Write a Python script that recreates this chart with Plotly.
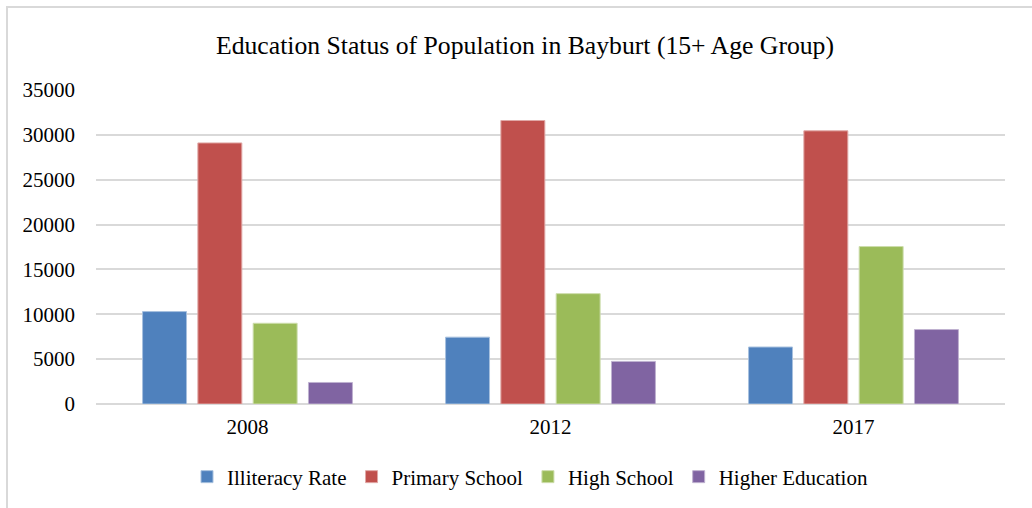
import plotly.graph_objects as go

years = ["2008", "2012", "2017"]
series_names = ["Illiteracy Rate", "Primary School", "High School", "Higher Education"]
illiteracy = [10300, 7450, 6350]
primary = [29100, 31600, 30450]
high_school = [9000, 12300, 17550]
higher_edu = [2400, 4750, 8300]
colors = ["#4F81BD", "#C0504D", "#9BBB59", "#8064A2"]
edge_colors = ["#A7C0DE", "#E0A8A6", "#CDDDAC", "#BFB1D0"]
y_ticks = [0, 5000, 10000, 15000, 20000, 25000, 30000, 35000]

font_family = "Liberation Serif"

fig = go.Figure()
for name, vals, c, ec in zip(series_names, [illiteracy, primary, high_school, higher_edu], colors, edge_colors):
    fig.add_trace(go.Bar(
        x=years, y=vals, name=name,
        marker=dict(color=c, line=dict(color=ec, width=1)),
    ))

fig.update_layout(
    width=1032, height=508,
    barmode="group",
    bargap=0.27,
    bargroupgap=0.205,
    paper_bgcolor="white",
    plot_bgcolor="white",
    margin=dict(l=96, r=27, t=90, b=104),
    font=dict(family=font_family, color="#000000", size=21),
    title=dict(
        text="Education Status of Population in Bayburt (15+ Age Group)",
        x=525 / 1032, xref="container", xanchor="center",
        y=1 - 45 / 508, yref="container", yanchor="middle",
        font=dict(family=font_family, size=25.7, color="#000000"),
    ),
    xaxis=dict(
        showgrid=False, showline=False, ticks="",
        tickfont=dict(size=21), ticklabelstandoff=8,
    ),
    yaxis=dict(
        range=[0, 35000], tickvals=y_ticks, tickformat="d",
        showgrid=True, gridcolor="#D9D9D9", gridwidth=1.5,
        zeroline=True, zerolinecolor="#D9D9D9", zerolinewidth=1.5,
        showline=False, ticks="", tickfont=dict(size=21),
        ticklabelstandoff=20,
    ),
    legend=dict(
        orientation="h",
        x=530 / 1032, xref="container", xanchor="center",
        y=1 - 477 / 508, yref="container", yanchor="middle",
        font=dict(size=21),
        itemwidth=30,
        traceorder="normal",
    ),
    showlegend=True,
)

fig.add_shape(
    type="rect", xref="paper", yref="paper",
    x0=(7 - 96) / 909, x1=1.2, y0=-0.5, y1=1 + (90 - 7) / 314,
    line=dict(color="#D9D9D9", width=2), fillcolor="rgba(0,0,0,0)", layer="below",
)

fig.write_html("out.html", post_script="document.body.style.margin='0';",
               config={"displayModeBar": False})
